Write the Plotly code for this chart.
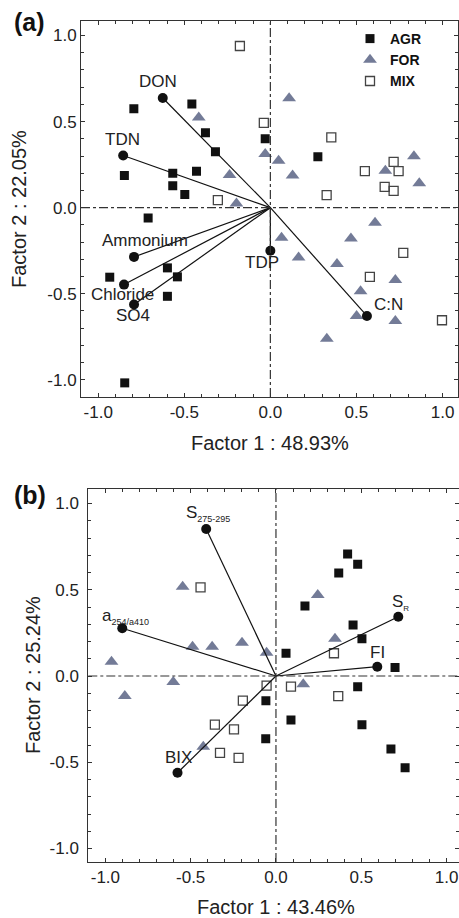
import plotly.graph_objects as go

# ---------------- Panel (a) data ----------------
agr_a_x = [-0.456, -0.793, -0.377, -0.03, -0.319, -0.848, -0.567, -0.429, -0.567, -0.497,
           -0.71, -0.933, -0.598, -0.54, -0.598, -0.846, 0.276]
agr_a_y = [0.602, 0.574, 0.435, 0.40, 0.325, 0.187, 0.20, 0.212, 0.127, 0.077,
           -0.06, -0.404, -0.35, -0.402, -0.515, -1.018, 0.295]

for_a_x = [-0.416, 0.109, -0.03, 0.048, 0.129, -0.237, -0.197, 0.668, 0.834, 0.865,
           0.608, 0.065, 0.468, 0.164, 0.387, 0.726, 0.524, 0.501, 0.726, 0.328]
for_a_y = [0.524, 0.635, 0.311, 0.272, 0.187, 0.189, 0.024, 0.214, 0.299, 0.141,
           -0.088, -0.175, -0.179, -0.29, -0.328, -0.421, -0.485, -0.629, -0.658, -0.761]

mix_a_x = [-0.177, -0.038, 0.354, -0.305, 0.549, 0.716, 0.745, 0.664, 0.716, 0.327,
           0.772, 0.578, 0.997]
mix_a_y = [0.939, 0.493, 0.408, 0.044, 0.212, 0.266, 0.212, 0.121, 0.098, 0.073,
           -0.263, -0.402, -0.654]

vec_a_names = ["DON", "TDN", "Ammonium", "Chloride", "SO4", "TDP", "C:N"]
vec_a_x = [-0.625, -0.855, -0.792, -0.85, -0.792, 0.0, 0.561]
vec_a_y = [0.637, 0.303, -0.286, -0.447, -0.563, -0.25, -0.629]

# ---------------- Panel (b) data ----------------
agr_b_x = [0.42, 0.479, 0.368, 0.17, 0.452, 0.504, 0.059, 0.698, 0.479, -0.059,
           0.088, 0.504, -0.06, 0.674, 0.757]
agr_b_y = [0.707, 0.648, 0.597, 0.406, 0.296, 0.216, 0.132, 0.05, -0.062, -0.143,
           -0.255, -0.282, -0.363, -0.423, -0.532]

for_b_x = [-0.547, -0.489, -0.374, -0.199, -0.055, -0.964, -0.886, -0.602, -0.426,
           0.245, 0.346, 0.16]
for_b_y = [0.518, 0.17, 0.17, 0.193, 0.135, 0.083, -0.116, -0.035, -0.41,
           0.47, 0.216, -0.048]

mix_b_x = [-0.442, -0.055, -0.194, -0.358, -0.246, -0.328, -0.219, 0.34, 0.088, 0.365]
mix_b_y = [0.514, -0.056, -0.143, -0.282, -0.309, -0.446, -0.475, 0.132, -0.062, -0.116]

vec_b_names = ["S<sub><span style='font-size:9px'>275-295</span></sub>",
               "a<sub><span style='font-size:9px'>254/a410</span></sub>",
               "BIX",
               "S<sub><span style='font-size:8px'>R</span></sub>",
               "FI"]
vec_b_x = [-0.409, -0.901, -0.577, 0.717, 0.594]
vec_b_y = [0.852, 0.277, -0.561, 0.344, 0.054]

tick_vals = [-1.0, -0.5, 0.0, 0.5, 1.0]
tick_text = ["-1.0", "-0.5", "0.0", "0.5", "1.0"]

# ---------------- styles ----------------
FONT = "Liberation Sans, Arial, sans-serif"
TRI = "#737b97"
W, H = 459, 918

fig = go.Figure()


def add_groups(ax, ay, fx, fy, mx, my, xa, ya, legend):
    fig.add_trace(go.Scatter(x=ax, y=ay, mode="markers", name="AGR", xaxis=xa, yaxis=ya,
                             showlegend=legend,
                             marker=dict(symbol="square", size=9, color="#111111",
                                         line=dict(width=0))))
    fig.add_trace(go.Scatter(x=fx, y=fy, mode="markers", name="FOR", xaxis=xa, yaxis=ya,
                             showlegend=legend,
                             marker=dict(symbol="triangle-up", size=12, color=TRI,
                                         line=dict(width=0))))
    fig.add_trace(go.Scatter(x=mx, y=my, mode="markers", name="MIX", xaxis=xa, yaxis=ya,
                             showlegend=legend,
                             marker=dict(symbol="square-open", size=9, color="#444444",
                                         line=dict(width=1.3))))


def add_vectors(vx, vy, xa, ya):
    lx, ly = [], []
    for x, y in zip(vx, vy):
        lx += [0, x, None]
        ly += [0, y, None]
    fig.add_trace(go.Scatter(x=lx, y=ly, mode="lines", xaxis=xa, yaxis=ya, showlegend=False,
                             line=dict(color="#111111", width=1.2), hoverinfo="skip"))
    fig.add_trace(go.Scatter(x=vx, y=vy, mode="markers", xaxis=xa, yaxis=ya, showlegend=False,
                             marker=dict(symbol="circle", size=10, color="#111111")))


add_groups(agr_a_x, agr_a_y, for_a_x, for_a_y, mix_a_x, mix_a_y, "x", "y", True)
add_vectors(vec_a_x, vec_a_y, "x", "y")
add_groups(agr_b_x, agr_b_y, for_b_x, for_b_y, mix_b_x, mix_b_y, "x2", "y2", False)
add_vectors(vec_b_x, vec_b_y, "x2", "y2")

# vector labels (offsets in pixels)
off_a = [(-5, 16), (-1, 16), (11, 16), (-2, -10), (-1, -11), (-8, -12), (22, 11)]
off_b = [(2, 16), (3, 12), (1, 15), (2, 14), (0, 14)]
ann = []
for n, x, y, (dx, dy) in zip(vec_a_names, vec_a_x, vec_a_y, off_a):
    ann.append(dict(x=x, y=y, xref="x", yref="y", text=n, showarrow=False,
                    xanchor="center", yanchor="middle",
                    xshift=dx, yshift=dy, font=dict(family=FONT, size=17, color="#222")))
for n, x, y, (dx, dy) in zip(vec_b_names, vec_b_x, vec_b_y, off_b):
    ann.append(dict(x=x, y=y, xref="x2", yref="y2", text=n, showarrow=False,
                    xanchor="center", yanchor="middle",
                    xshift=dx, yshift=dy, font=dict(family=FONT, size=17, color="#222")))


def px(xp):
    return xp / W


def py(yp):
    return (H - yp) / H


title_font = dict(family=FONT, size=20, color="#222")
ann += [
    dict(x=px(270), y=py(443), text="Factor 1 : 48.93%", font=title_font),
    dict(x=px(19), y=py(209), text="Factor 2 : 22.05%", textangle=-90, font=title_font),
    dict(x=px(276), y=py(907), text="Factor 1 : 43.46%", font=title_font),
    dict(x=px(33), y=py(675), text="Factor 2 : 25.24%", textangle=-90, font=title_font),
    dict(x=px(29), y=py(22), text="<b>(a)</b>", font=dict(family=FONT, size=25, color="#111")),
    dict(x=px(30), y=py(495), text="<b>(b)</b>", font=dict(family=FONT, size=25, color="#111")),
]
for a in ann[-6:]:
    a.update(xref="paper", yref="paper", showarrow=False, xanchor="center", yanchor="middle")

axis_common = dict(
    showgrid=False, zeroline=False, showline=True, linecolor="#333", linewidth=1,
    mirror="allticks", ticks="inside", ticklen=4, tickcolor="#333", tickwidth=1,
    tickmode="array", tickvals=tick_vals, ticktext=tick_text,
    tickfont=dict(family=FONT, size=17, color="#222"),
    minor=dict(ticks="inside", ticklen=3, dtick=0.1, tick0=0, tickcolor="#333",
               showgrid=False),
    fixedrange=True,
)

# dash-dot lines through the origin
shapes = []
for xr, yr in (("x", "y"), ("x2", "y2")):
    shapes.append(dict(type="line", xref=xr + " domain", yref=yr, x0=0, x1=1, y0=0, y1=0,
                       line=dict(color="#333", width=1.2, dash="dashdot")))
    shapes.append(dict(type="line", xref=xr, yref=yr + " domain", x0=0, x1=0, y0=0, y1=1,
                       line=dict(color="#333", width=1.2, dash="dashdot")))

fig.update_layout(
    width=W, height=H, margin=dict(l=0, r=0, t=0, b=0),
    paper_bgcolor="white", plot_bgcolor="white",
    font=dict(family=FONT, color="#222"),
    xaxis=dict(axis_common, domain=[px(81), px(458)], range=[-1.1, 1.09], anchor="y"),
    yaxis=dict(axis_common, domain=[py(397), py(20.7)], range=[-1.10, 1.086], anchor="x"),
    xaxis2=dict(axis_common, domain=[px(88.3), px(458.5)], range=[-1.1, 1.07], anchor="y2"),
    yaxis2=dict(axis_common, domain=[py(862), py(489)], range=[-1.078, 1.084], anchor="x2",
                ticklabelstandoff=5),
    legend=dict(x=px(350), y=py(23), xanchor="left", yanchor="top",
                bgcolor="rgba(0,0,0,0)", borderwidth=0,
                font=dict(family=FONT, size=14, color="#111", weight="bold"),
                itemwidth=30, tracegroupgap=0),
    annotations=ann,
    shapes=shapes,
    showlegend=True,
)

# remove the browser's default 8px page margin so the figure fills the window exactly
fig.write_html("out.html",
               config={"displayModeBar": False},
               post_script="document.body.style.margin='0';"
                           "document.documentElement.style.overflow='hidden';")
